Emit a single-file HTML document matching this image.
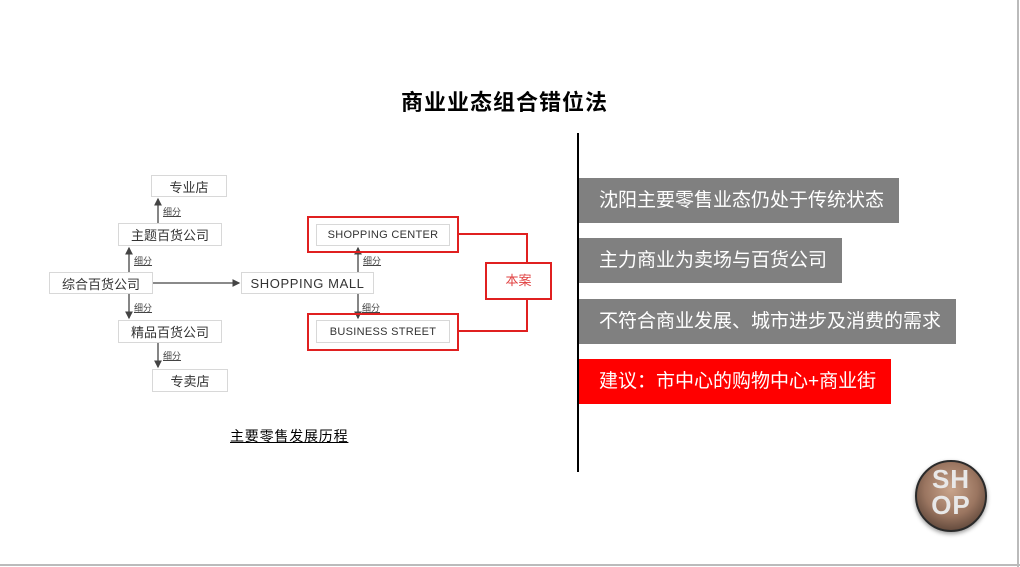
<!DOCTYPE html>
<html><head><meta charset="utf-8"><style>
*{margin:0;padding:0;box-sizing:border-box}
body{width:1020px;height:567px;background:#fff;position:relative;overflow:hidden;font-family:"Liberation Sans","Noto Sans CJK SC",sans-serif}
.a{position:absolute}
.b{position:absolute;border:1px solid #d8d8d8;background:#fff;color:#333;font-size:13px;display:flex;align-items:center;justify-content:center;white-space:nowrap}
.en{font-size:12px;letter-spacing:0.3px}
.l{position:absolute;font-size:9px;color:#444;text-decoration:underline}
.bar{position:absolute;left:579px;height:45px;color:#fff;font-size:19px;line-height:45px;padding-left:20px;white-space:nowrap}
</style></head><body>
<div class="a" style="right:1px;top:0;width:2px;height:567px;background:#bbb"></div>
<div class="a" style="left:0;bottom:1px;width:1020px;height:2px;background:#bbb"></div>
<div class="a" style="left:401px;top:85px;font-size:22px;font-weight:bold;color:#000;letter-spacing:1px">商业业态组合错位法</div>
<div class="a" style="left:577px;top:133px;width:2px;height:339px;background:#000"></div>

<svg class="a" style="left:0;top:0" width="1020" height="567">
<defs><marker id="m" markerWidth="6" markerHeight="6" refX="5" refY="3" orient="auto"><path d="M0,0 L6,3 L0,6 z" fill="#444"/></marker></defs>
<g stroke="#444" stroke-width="1.3" fill="none">
<line x1="158" y1="223" x2="158" y2="199" marker-end="url(#m)"/>
<line x1="129" y1="272" x2="129" y2="248" marker-end="url(#m)"/>
<line x1="129" y1="294" x2="129" y2="318" marker-end="url(#m)"/>
<line x1="158" y1="343" x2="158" y2="367" marker-end="url(#m)"/>
<line x1="153" y1="283" x2="239" y2="283" marker-end="url(#m)"/>
<line x1="358" y1="272" x2="358" y2="248" marker-end="url(#m)"/>
<line x1="358" y1="294" x2="358" y2="318" marker-end="url(#m)"/>
</g>
<g stroke="#e02020" stroke-width="2" fill="none">
<rect x="308" y="217" width="150" height="35"/>
<rect x="308" y="314" width="150" height="36"/>
<rect x="486" y="263" width="65" height="36"/>
<polyline points="458,234 527,234 527,263"/>
<polyline points="527,299 527,331 458,331"/>
</g>
</svg>

<div class="b" style="left:151px;top:175px;width:76px;height:22px">专业店</div>
<div class="b" style="left:118px;top:223px;width:104px;height:23px">主题百货公司</div>
<div class="b" style="left:49px;top:272px;width:104px;height:22px">综合百货公司</div>
<div class="b" style="left:118px;top:320px;width:104px;height:23px">精品百货公司</div>
<div class="b" style="left:152px;top:369px;width:76px;height:23px">专卖店</div>
<div class="b en" style="left:241px;top:272px;width:133px;height:22px;font-size:13px;letter-spacing:0.6px">SHOPPING MALL</div>
<div class="b en" style="left:316px;top:224px;width:134px;height:22px;font-size:11px">SHOPPING CENTER</div>
<div class="b en" style="left:316px;top:320px;width:134px;height:23px;font-size:11px">BUSINESS STREET</div>
<div class="a" style="left:486px;top:263px;width:65px;height:36px;line-height:36px;text-align:center;color:#e04040;font-size:13px">本案</div>

<div class="l" style="left:163px;top:205px">细分</div>
<div class="l" style="left:134px;top:254px">细分</div>
<div class="l" style="left:134px;top:301px">细分</div>
<div class="l" style="left:163px;top:349px">细分</div>
<div class="l" style="left:363px;top:254px">细分</div>
<div class="l" style="left:362px;top:301px">细分</div>

<div class="a" style="left:230px;top:426px;font-size:14px;color:#000;text-decoration:underline;letter-spacing:0.8px">主要零售发展历程</div>

<div class="bar" style="top:178px;width:320px;background:#808080">沈阳主要零售业态仍处于传统状态</div>
<div class="bar" style="top:238px;width:263px;background:#808080">主力商业为卖场与百货公司</div>
<div class="bar" style="top:299px;width:377px;background:#808080">不符合商业发展、城市进步及消费的需求</div>
<div class="bar" style="top:359px;width:312px;background:#ff0000">建议：市中心的购物中心+商业街</div>

<div class="a" style="left:915px;top:460px;width:72px;height:72px;border-radius:50%;background:radial-gradient(circle at 50% 40%,#c9a58c 0%,#9a7560 50%,#3a2a22 100%);border:2px solid #2a2a2a;box-shadow:0 2px 4px #999"></div>
<div class="a" style="left:915px;top:466px;width:72px;text-align:center;font-weight:bold;font-size:26px;line-height:26px;color:#e8e8e8;letter-spacing:1px">SH<br>OP</div>
</body></html>
